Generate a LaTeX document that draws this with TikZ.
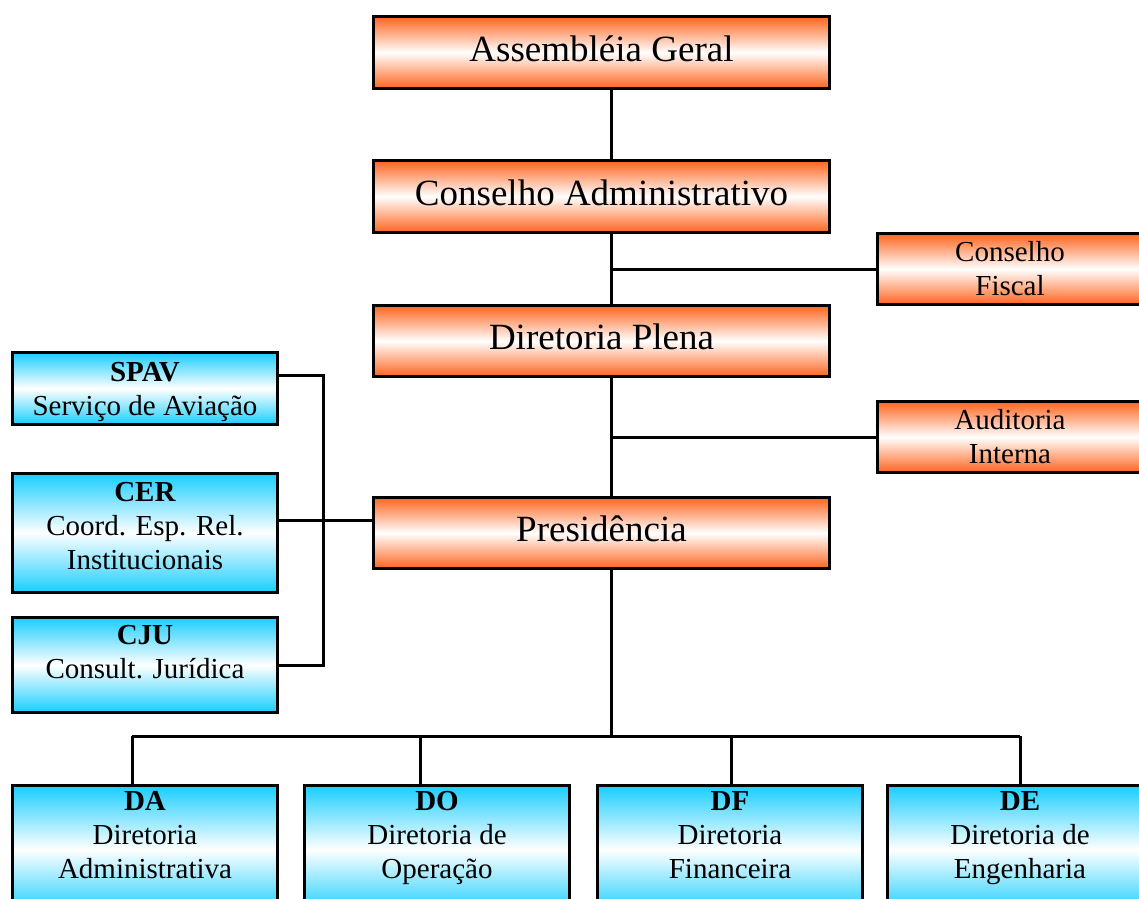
\documentclass[tikz,border=0pt]{standalone}
\usepackage{fontspec}
\setmainfont{Liberation Serif}
\definecolor{oran}{RGB}{255,100,30}
\definecolor{cyanb}{RGB}{25,205,255}
\tikzset{
  box/.style={draw=black, line width=3pt, rectangle, anchor=north west, inner sep=0pt},
  obox/.style={box, top color=oran, bottom color=oran, middle color=white},
  bbox/.style={box, top color=cyanb, bottom color=cyanb, middle color=white},
  big/.style={font=\fontsize{37}{42}\selectfont, yshift=4pt},
  small/.style={font=\fontsize{29}{34}\selectfont, align=center, inner sep=0pt},
  btext/.style={small, anchor=north, yshift=-7.5pt},
  conn/.style={line width=3pt}
}
\begin{document}
\begin{tikzpicture}[x=1pt,y=-1pt]
\useasboundingbox (0,0) rectangle (1139,898);
\clip (0,0) rectangle (1139,898);
% coordinates
\coordinate (sx) at (611,0);
\coordinate (busc) at (611,736);
\coordinate (dA) at (132,736);
\coordinate (dO) at (420,736);
\coordinate (dF) at (731,736);
\coordinate (dE) at (1020,736);
\coordinate (lt) at (323,375);
\coordinate (lm) at (323,520);
% orange boxes
\node[obox, minimum width=456pt, minimum height=72pt] (ag) at (372,15) {};
\node[big] (agt) at (ag.center) {Assembléia Geral};
\node[obox, minimum width=456pt, minimum height=72pt] (ca) at (372,159) {};
\node[big] (cat) at (ca.center) {Conselho Administrativo};
\node[obox, minimum width=456pt, minimum height=71pt] (dp) at (372,304) {};
\node[big] (dpt) at (dp.center) {Diretoria Plena};
\node[obox, minimum width=456pt, minimum height=71pt] (pr) at (372,496) {};
\node[big] (prt) at (pr.center) {Presidência};
\node[obox, minimum width=265pt, minimum height=71pt] (cf) at (876,232) {};
\node[small] (cft) at (cf.center) {Conselho\\Fiscal};
\node[obox, minimum width=265pt, minimum height=71pt] (ai) at (876,400) {};
\node[small] (ait) at (ai.center) {Auditoria\\Interna};
% blue side boxes
\node[bbox, minimum width=265pt, minimum height=72pt] (spav) at (11,351) {};
\node[small, yshift=-3pt] (spavt) at (spav.center) {\textbf{SPAV}\\Serviço de Aviação};
\node[bbox, minimum width=265pt, minimum height=119pt] (cer) at (11,472) {};
\node[small, yshift=7pt] (cert) at (cer.center) {\textbf{CER}\\Coord. Esp. Rel.\\Institucionais};
\node[bbox, minimum width=265pt, minimum height=95pt] (cju) at (11,616) {};
\node[small, yshift=13pt] (cjut) at (cju.center) {\textbf{CJU}\\Consult. Jurídica};
% bottom boxes
\node[bbox, minimum width=265pt, minimum height=128pt] (da) at (11,784) {};
\node[btext] (dat) at (da.north) {\textbf{DA}\\Diretoria\\Administrativa};
\node[bbox, minimum width=265pt, minimum height=128pt] (do) at (303,784) {};
\node[btext] (dot) at (do.north) {\textbf{DO}\\Diretoria de\\Operação};
\node[bbox, minimum width=265pt, minimum height=128pt] (df) at (596,784) {};
\node[btext] (dft) at (df.north) {\textbf{DF}\\Diretoria\\Financeira};
\node[bbox, minimum width=265pt, minimum height=128pt] (de) at (886,784) {};
\node[btext] (det) at (de.north) {\textbf{DE}\\Diretoria de\\Engenharia};
% connectors
\draw[conn] (ag.south -| sx) -- (ca.north -| sx);
\draw[conn] (ca.south -| sx) -- (dp.north -| sx);
\draw[conn] (dp.south -| sx) -- (pr.north -| sx);
\draw[conn] (pr.south -| sx) -- (busc);
\draw[conn] (cf.west) -- (cf.west -| sx);
\draw[conn] (ai.west) -- (ai.west -| sx);
\draw[conn] (dA) -- (dE);
\draw[conn] (dA) -- (dA |- da.north);
\draw[conn] (dO) -- (dO |- do.north);
\draw[conn] (dF) -- (dF |- df.north);
\draw[conn] (dE) -- (dE |- de.north);
\draw[conn] (spav.east |- lt) -- (lt) -- (lt |- cju.east) -- (cju.east);
\draw[conn] (cer.east |- lm) -- (pr.west |- lm);
\end{tikzpicture}
\end{document}
